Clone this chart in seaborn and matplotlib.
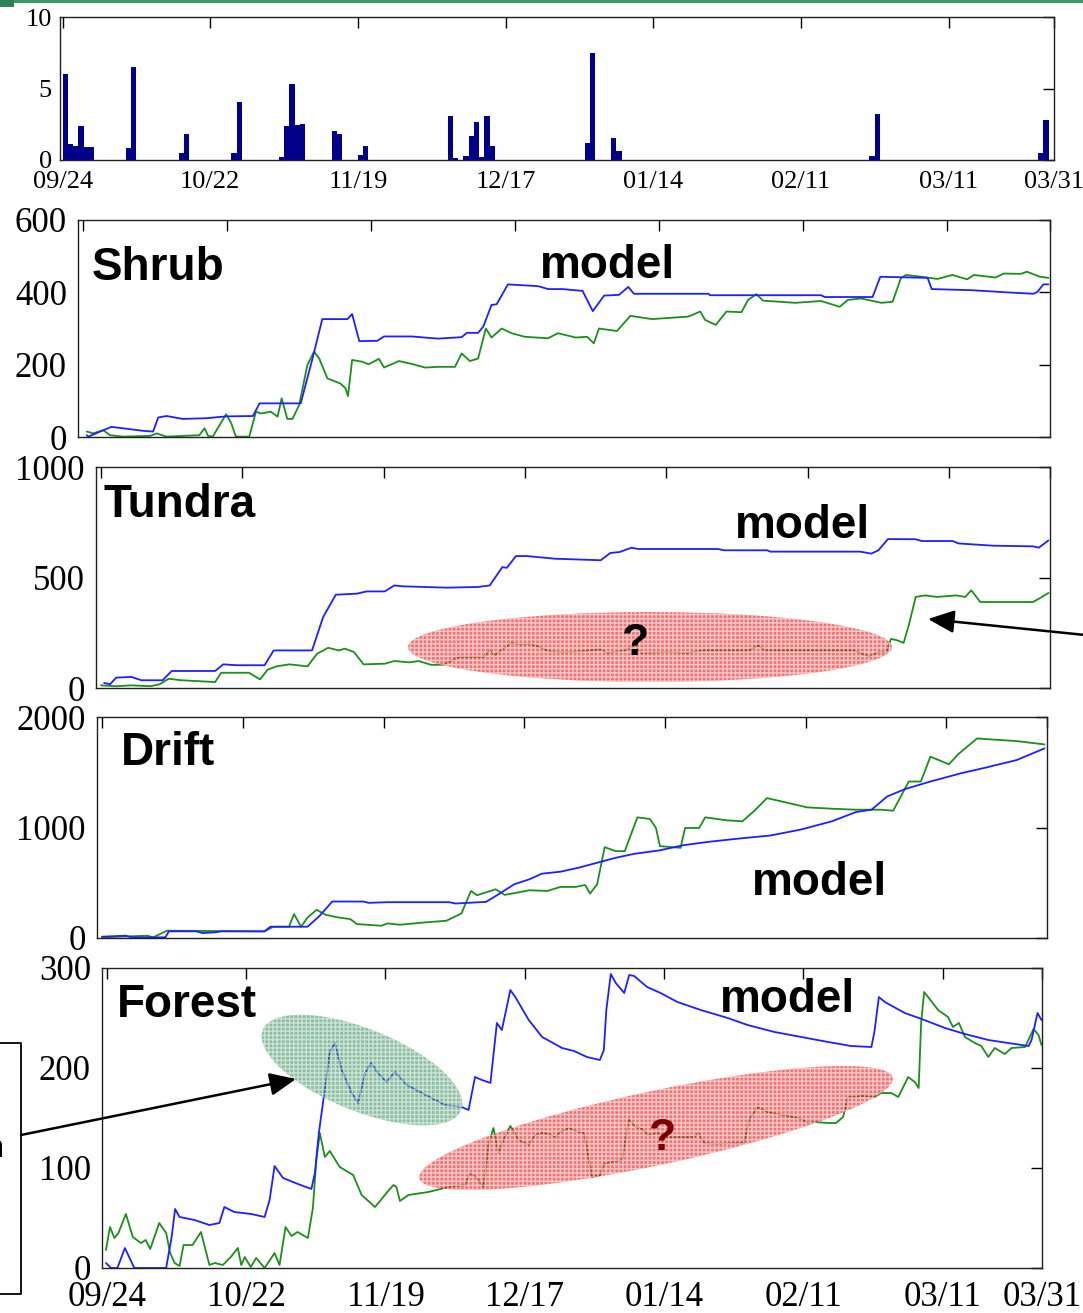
import matplotlib
matplotlib.use("Agg")
import matplotlib.pyplot as plt
import numpy as np
import pandas as pd
import seaborn as sns
from matplotlib.transforms import Affine2D
from matplotlib.patches import Ellipse, Rectangle, FancyArrowPatch
from matplotlib.lines import Line2D

# ---------------- data ----------------
date_ticks = [0, 28, 56, 84, 112, 140, 168, 188]
date_labels = ["09/24", "10/22", "11/19", "12/17", "01/14", "02/11", "03/11", "03/31"]

bar_day = [0, 1, 2, 3, 4, 5, 12, 13, 22, 23, 32, 33, 41, 42, 43, 44, 45, 51, 52, 56, 57,
           73, 74, 76, 77, 78, 79, 80, 81, 99, 100, 104, 105, 153, 154, 185, 186]
bar_val = [6.0, 1.15, 1.0, 2.4, 0.9, 0.9, 0.85, 6.5, 0.5, 1.85, 0.5, 4.05, 0.2, 2.4, 5.3, 2.45,
           2.55, 2.0, 1.85, 0.35, 1.0, 3.1, 0.15, 0.3, 1.7, 2.65, 0.2, 3.05, 1.0, 1.2, 7.5, 1.55,
           0.6, 0.28, 3.25, 0.5, 2.8]

shrub_model_day = [0.7, 1, 3.3, 5.5, 7.8, 11.7, 13.6, 14.6, 16.2, 19.4, 24, 27.8, 33, 34.3, 42.3,
                   44.6, 46.5, 51.4, 52.3, 53.7, 57.2, 58.5, 63.9, 69, 73.6, 74.6, 76.8, 77.8, 79.4,
                   80.4, 82.6, 88.5, 90.4, 93.2, 97.1, 99.1, 101.3, 104.2, 106, 107.1, 121.6, 121.9,
                   143.5, 144.2, 153.5, 155, 164.2, 165, 172.6, 179.6, 184.8, 185.6, 186.7, 187.7]
shrub_model_val = [5, 1, 15, 28, 24, 17, 15, 54, 58, 50, 52, 57, 58, 93, 93, 217, 326, 326, 340, 265,
                   266, 278, 278, 272, 276, 288, 288, 305, 365, 367, 422, 417, 409, 409, 404, 348, 391,
                   393, 415, 396, 396, 392, 392, 387, 387, 443, 440, 409, 406, 400, 396, 402, 422, 422]
shrub_obs_day = [0.7, 2, 3.9, 5.2, 7.8, 13, 14.3, 16.2, 22.6, 23.6, 24.3, 25.2, 27.8, 28.8, 29.7,
                 32.3, 33.6, 34.6, 36.5, 37.8, 38.6, 39.7, 40.7, 42, 43.6, 44.9, 45.9, 47.5, 50, 51,
                 51.5, 52.3, 54.3, 55.5, 57.5, 58.5, 61.4, 63.9, 66.5, 69.1, 72.3, 73.6, 75.2, 76.8,
                 78.3, 79.4, 81.4, 83.3, 85.9, 90.4, 92.3, 95.8, 98, 99.3, 100.3, 103.8, 106.4, 110.6,
                 117.7, 120, 120.9, 123, 125.1, 128, 129.3, 130.9, 132.2, 138.4, 143.5, 147.1, 148.7,
                 151.3, 155.2, 157.4, 159, 160, 163.6, 166.1, 169, 171.9, 173.2, 177.4, 179, 182.3,
                 183.5, 186.1, 187.7]
shrub_obs_val = [15, 10, 19, 5, 1, 3, 10, 1, 5, 24, 3, 1, 63, 38, 1, 1, 70, 65, 70, 56, 107, 50, 50,
                 88, 199, 236, 217, 162, 148, 135, 113, 213, 208, 201, 216, 192, 210, 202, 192, 194,
                 194, 231, 210, 217, 300, 275, 300, 287, 277, 273, 287, 275, 277, 259, 300, 293, 335,
                 326, 333, 347, 324, 310, 347, 345, 379, 395, 377, 371, 376, 360, 379, 383, 371, 374,
                 439, 448, 442, 437, 448, 436, 448, 441, 452, 451, 457, 443, 440]

tundra_model_day = [0.6, 1.8, 3, 6, 8, 12.2, 14, 22.6, 24.2, 26.9, 32.4, 34.2, 41.8, 44, 46.5, 50.7,
                    52.6, 56.2, 58.1, 59.9, 68.5, 74.6, 77, 79.5, 80.4, 82.2, 84.4, 89.9, 99, 100.9,
                    102.7, 105.1, 106.4, 122.2, 123.5, 132, 132.6, 150.4, 152.6, 154, 155.9, 161.4,
                    162.6, 168.7, 169.9, 176.7, 184.6, 185.8, 187.7]
tundra_model_val = [23, 17, 47, 50, 35, 35, 77, 77, 107, 103, 103, 170, 170, 321, 422, 427, 437, 437,
                    464, 460, 454, 457, 464, 547, 544, 597, 597, 585, 578, 611, 615, 635, 629, 629,
                    623, 623, 617, 617, 608, 623, 674, 673, 665, 665, 654, 644, 641, 635, 668]
tundra_obs_day = [0, 3, 6, 9.8, 11.6, 13.4, 15.9, 22.6, 23.8, 29.3, 31.5, 33, 34.8, 37.3, 40.9, 42.8,
                  45, 47.1, 48.3, 50.1, 52, 56.2, 58.1, 61.1, 62.9, 65.4, 67.8, 70.9, 75.8, 77, 78,
                  81.3, 83.1, 84.9, 86.6, 88.6, 91.7, 95.4, 99, 100.2, 103.9, 105.7, 107, 112.5, 116.1,
                  119.2, 128.4, 130.2, 131.5, 149.1, 152.2, 154, 155.6, 156.5, 157.7, 159, 160.1,
                  161.4, 163.2, 165.6, 169.4, 171.2, 172.4, 174.2, 184.6, 185.8, 187.7]
tundra_obs_val = [12, 8, 12, 8, 17, 42, 35, 27, 69, 69, 39, 83, 98, 107, 98, 155, 182, 170, 178, 163,
                  107, 110, 122, 116, 122, 105, 105, 140, 140, 170, 149, 204, 196, 198, 188, 167, 161,
                  167, 175, 158, 170, 193, 158, 163, 158, 170, 170, 193, 170, 170, 143, 163, 163, 222,
                  216, 204, 291, 412, 419, 412, 419, 412, 442, 389, 389, 404, 430]

drift_model_day = [0, 4.7, 5.9, 12.6, 13.3, 18.8, 20, 22.5, 23.7, 32.3, 33.5, 40.9, 43.3, 45.8, 51.9,
                   53.1, 56.8, 69.1, 70.3, 76.4, 78.9, 82, 85, 87.5, 91.2, 94.8, 98.5, 102.2, 105.9,
                   110.8, 115.7, 120.6, 126.7, 132.9, 139, 145.2, 150, 153.1, 156.2, 159.9, 164.8,
                   170.9, 175.8, 182, 187.5]
drift_model_val = [12, 21, 6, 6, 60, 60, 45, 51, 60, 60, 102, 102, 201, 330, 330, 318, 324, 324, 312,
                   327, 396, 486, 531, 582, 600, 636, 681, 726, 762, 792, 840, 870, 900, 927, 981,
                   1056, 1140, 1161, 1281, 1350, 1416, 1491, 1542, 1611, 1716]
drift_obs_day = [0, 9, 10.2, 12.9, 32.3, 34.1, 37.2, 38.2, 39.6, 40.9, 42.7, 44.5, 47, 49.4, 50.7,
                 55.6, 56.8, 59.3, 64.2, 68.5, 71.5, 73.4, 74.6, 78.3, 80.1, 82.6, 85, 88.6, 91.2,
                 94.2, 96.1, 97.1, 98.5, 100, 102.2, 104, 106.5, 109, 110.2, 111, 115.1, 116, 118.8,
                 120, 124.3, 127.4, 129.8, 132.3, 136.6, 140.3, 145.2, 150, 155, 157.4, 160.5, 162.9,
                 164.8, 168.5, 170.3, 174.1, 175.9, 182, 187.5]
drift_obs_val = [6, 21, 6, 66, 60, 102, 102, 216, 102, 186, 255, 210, 186, 171, 126, 111, 132, 120,
                 141, 156, 222, 426, 387, 441, 390, 411, 432, 426, 462, 462, 480, 402, 486, 822, 786,
                 786, 1092, 1077, 996, 831, 816, 996, 996, 1092, 1065, 1056, 1152, 1266, 1221, 1182,
                 1170, 1161, 1161, 1152, 1416, 1416, 1641, 1572, 1662, 1806, 1800, 1782, 1752]

forest_model_day = [-0.2, 0.8, 2.1, 3.6, 5.5, 11.9, 13, 13.7, 14.6, 17.6, 20.6, 22.6, 23.6, 25.6, 29,
                    31.7, 32.7, 33.7, 35.4, 38.4, 41.1, 41.8, 42.6, 43.7, 44.8, 45.8, 47.2, 49.2,
                    50.5, 51.9, 53.1, 54.5, 56.2, 57.9, 60.3, 63.3, 68, 71.3, 72.7, 74, 75.4, 77.1,
                    78.4, 79.4, 81.1, 82.1, 84.8, 87.5, 91.5, 93.9, 96.5, 99.1, 99.9, 100.4, 101.3,
                    102.3, 104, 105, 106, 108.6, 111.3, 114.7, 119.4, 124.8, 128.8, 134.2, 139.6, 145,
                    149.6, 153.7, 154.3, 155.2, 156.4, 160.4, 163.8, 168.5, 172.5, 177.2, 181.2, 185.3,
                    185.9, 187.1, 187.9]
forest_model_val = [5, 0, 0, 20, 0, 0, 31, 59, 51, 48, 43, 45, 61, 56, 54, 51, 68, 102, 90, 84, 79,
                    95, 135, 175, 216, 225, 198, 175, 165, 195, 205, 195, 186, 196, 183, 175, 163, 161,
                    158, 191, 188, 185, 245, 238, 278, 271, 248, 231, 220, 217, 211, 208, 218, 258, 294,
                    285, 275, 293, 292, 281, 275, 266, 258, 250, 243, 236, 231, 226, 222, 221, 236, 271,
                    266, 255, 249, 240, 234, 228, 225, 222, 228, 255, 248]
forest_obs_day = [-0.2, 0.6, 1.5, 2.3, 3.8, 5.2, 6.8, 7.8, 8.7, 10.5, 11.9, 12.7, 13.6, 14.6, 15.4,
                  17.2, 18.9, 20.6, 21.7, 23.3, 24.9, 26.3, 27, 27.7, 28.9, 30, 31.7, 33.7, 34.7, 35.9,
                  37.1, 38.3, 40.4, 41.4, 42.1, 42.8, 43.8, 44.8, 46.8, 49.5, 51.2, 53.9, 56.2, 57.6,
                  58.2, 58.9, 60.6, 64.6, 68.7, 72, 73, 74.4, 75.7, 76.7, 77.7, 78.7, 79.7, 81.1, 82.8,
                  84.8, 86.1, 87.5, 88.8, 90.2, 91.2, 92.9, 94.2, 95.9, 96.5, 97.5, 99.2, 99.9, 101.3,
                  103.6, 104.9, 106.3, 107.6, 108.8, 110.7, 112.7, 118.1, 118.9, 120.1, 122.8, 126.1,
                  128.1, 129.1, 130.8, 132.8, 136.9, 139.6, 140.9, 142.2, 145, 146.6, 148, 149, 150.3,
                  151.7, 154.3, 155.7, 157.7, 159.1, 161.1, 162.4, 163.2, 163.7, 164.3, 165.1, 167.1,
                  169.1, 170.1, 171.3, 172.5, 174.5, 175.8, 177.2, 178.5, 180.5, 181.9, 184.6, 186.3,
                  187.3, 187.9]
forest_obs_val = [18, 41, 30, 35, 54, 31, 25, 28, 19, 45, 35, 15, 5, 2, 23, 23, 36, 3, 5, 3, 11, 20, 3,
                  11, 1, 10, 0, 15, 3, 41, 32, 36, 30, 60, 108, 135, 111, 117, 101, 93, 73, 61, 75, 83,
                  81, 67, 73, 76, 81, 83, 95, 90, 81, 123, 140, 115, 128, 142, 128, 123, 133, 135, 134,
                  131, 136, 140, 137, 135, 120, 91, 93, 104, 106, 108, 149, 141, 139, 133, 135, 131,
                  131, 135, 125, 124, 125, 125, 148, 161, 156, 152, 149, 145, 146, 145, 145, 151, 171,
                  171, 172, 171, 175, 175, 171, 191, 186, 180, 245, 276, 271, 258, 251, 241, 245, 231,
                  225, 222, 211, 220, 214, 220, 221, 239, 233, 223]

panel_names = ["Shrub", "Tundra", "Drift", "Forest"]
panel_ylim = [600, 1000, 2000, 300]
panel_yticks = [[0, 200, 400, 600], [0, 500, 1000], [0, 1000, 2000], [0, 100, 200, 300]]

# ---------------- figure ----------------
sns.set_style("white")
plt.rcParams["font.family"] = ["Liberation Serif", "DejaVu Serif"]
plt.rcParams["text.color"] = "black"

W, H, DPI = 1083, 1313, 100
fig = plt.figure(figsize=(W / DPI, H / DPI), dpi=DPI, facecolor="white")
T = Affine2D().scale(1 / W, -1 / H).translate(0, 1) + fig.transFigure


def add_ax(l, t, r, b):
    return fig.add_axes([l / W, 1 - b / H, (r - l) / W, (b - t) / H])


BLUE = "#1f1fff"
GREEN = "#1e8c1e"
NAVY = "#00008b"


def style(ax, labelsize, pad_y, pad_x, showx):
    for s in ax.spines.values():
        s.set_visible(True)
        s.set_color("#202020")
        s.set_linewidth(1.0)
    ax.tick_params(direction="in", length=8, width=1, top=True, right=True,
                   labelsize=labelsize, colors="black")
    ax.tick_params(axis="y", pad=pad_y)
    ax.tick_params(axis="x", pad=pad_x, labelbottom=showx)
    ax.set_xlabel("")
    ax.set_ylabel("")


# top precipitation panel
precip = pd.DataFrame({"day": bar_day, "precip": bar_val})
ax0 = add_ax(60, 17, 1054, 160)
sns.histplot(data=precip, x="day", weights="precip", binwidth=1, binrange=(0, 189), ax=ax0,
             color=NAVY, alpha=1, linewidth=0, element="bars", fill=True)
ax0.set_xlim(-0.5, 188)
ax0.set_ylim(0, 10)
ax0.set_yticks([0, 5, 10])
ax0.set_xticks(date_ticks)
ax0.set_xticklabels(date_labels)
style(ax0, 19, 6, 8, True)

# four snow panels
boxes = [(78, 220, 1050, 437), (96, 467, 1050, 688), (97, 717, 1047, 938), (102, 968, 1042, 1268)]
models = [(shrub_model_day, shrub_model_val), (tundra_model_day, tundra_model_val),
          (drift_model_day, drift_model_val), (forest_model_day, forest_model_val)]
obs = [(shrub_obs_day, shrub_obs_val), (tundra_obs_day, tundra_obs_val),
       (drift_obs_day, drift_obs_val), (forest_obs_day, forest_obs_val)]

for i, box in enumerate(boxes):
    ax = add_ax(*box)
    sns.lineplot(x=obs[i][0], y=obs[i][1], ax=ax, color=GREEN, linewidth=1.3,
                 estimator=None, sort=False)
    sns.lineplot(x=models[i][0], y=models[i][1], ax=ax, color=BLUE, linewidth=1.3,
                 estimator=None, sort=False)
    ax.set_xlim(-1, 188)
    ax.set_ylim(0, panel_ylim[i])
    ax.set_yticks(panel_yticks[i])
    ax.set_xticks(date_ticks)
    ax.set_xticklabels(date_labels)
    style(ax, 25, 8, 9, i == 3)

# ---------------- annotations (pixel coordinates) ----------------
fig.add_artist(Rectangle((0, 0), W, 3, transform=T, color="#3a9a6a", lw=0))
fig.add_artist(Rectangle((0, 0), 14, 7, transform=T, color="#2f7f57", lw=0))

lab = dict(family=["Liberation Sans", "DejaVu Sans"], weight="bold", fontsize=33, color="black",
           transform=T, ha="left", va="baseline", zorder=10)
fig.text(92, 280, panel_names[0], **lab)
fig.text(540, 278, "model", **lab)
fig.text(104, 517, panel_names[1], **lab)
fig.text(735, 538, "model", **lab)
fig.text(121, 765, panel_names[2], **lab)
fig.text(752, 895, "model", **lab)
fig.text(117, 1017, panel_names[3], **lab)
fig.text(720, 1012, "model", **lab)

# shaded ellipses
fig.add_artist(Ellipse((650, 647), 484, 70, angle=0, transform=T, facecolor="#e81818",
                       edgecolor="white", hatch="++++", lw=0, alpha=0.6, zorder=5))
fig.add_artist(Ellipse((362, 1070), 214, 82, angle=22, transform=T, facecolor="#2e8b57",
                       edgecolor="white", hatch="++++", lw=0, alpha=0.55, zorder=5))
fig.add_artist(Ellipse((656, 1128), 484, 74, angle=-12, transform=T, facecolor="#e81818",
                       edgecolor="white", hatch="++++", lw=0, alpha=0.6, zorder=5))

q = dict(family=["Liberation Sans", "DejaVu Sans"], weight="bold", fontsize=32,
         transform=T, ha="center", va="baseline", zorder=11)
fig.text(636, 655, "?", color="black", **q)
fig.text(663, 1150, "?", color="#7a0000", **q)

# arrows
for a, b in [((1095, 636), (928, 619)), ((21, 1135), (296, 1079))]:
    fig.add_artist(FancyArrowPatch(a, b, transform=T, arrowstyle="-|>,head_length=0.8,head_width=0.35",
                                   mutation_scale=20, lw=1.8, color="black", shrinkA=0, shrinkB=0,
                                   zorder=12))

# partial box at the left edge
fig.add_artist(Line2D([0, 21, 21, 0], [1043, 1043, 1294, 1294], transform=T, color="black", lw=1.3))
fig.text(4, 1157, "n", family=["Liberation Sans", "DejaVu Sans"], fontsize=22, color="black",
         transform=T, ha="right", va="baseline")

fig.savefig("out.png", dpi=DPI, facecolor="white")
